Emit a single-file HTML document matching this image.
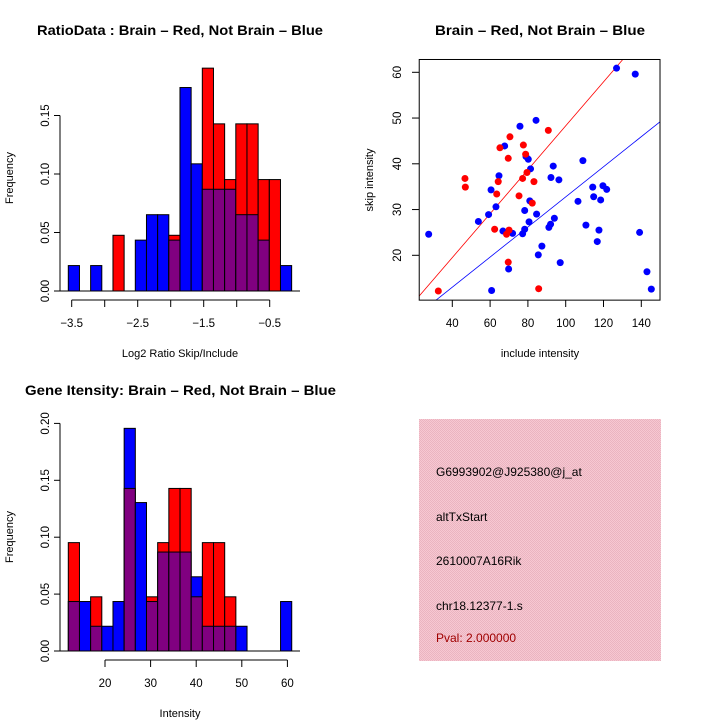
<!DOCTYPE html>
<html><head><meta charset="utf-8"><style>
html,body{margin:0;padding:0;background:#fff;}
svg{display:block;font-family:"Liberation Sans",sans-serif;}
</style></head><body>
<svg id="c" width="720" height="720" viewBox="0 0 720 720">
<defs><pattern id="pk" width="2" height="2" patternUnits="userSpaceOnUse"><rect width="2" height="2" fill="#f7c8d2"/><rect width="1" height="1" fill="#eab4c0"/><rect x="1" y="1" width="1" height="1" fill="#eab4c0"/></pattern></defs>
<text x="37" y="35" font-size="14" font-weight="bold" textLength="286" lengthAdjust="spacingAndGlyphs">RatioData : Brain – Red, Not Brain – Blue</text>
<text x="435" y="35" font-size="14" font-weight="bold" textLength="210" lengthAdjust="spacingAndGlyphs">Brain – Red, Not Brain – Blue</text>
<text x="25" y="395" font-size="14" font-weight="bold" textLength="311" lengthAdjust="spacingAndGlyphs">Gene Itensity: Brain – Red, Not Brain – Blue</text>
<text x="180" y="357" text-anchor="middle" font-size="11">Log2 Ratio Skip/Include</text>
<text x="180" y="717" text-anchor="middle" font-size="11">Intensity</text>
<text x="540" y="357" text-anchor="middle" font-size="11">include intensity</text>
<text transform="translate(13,178) rotate(-90)" text-anchor="middle" font-size="11">Frequency</text>
<text transform="translate(13,537) rotate(-90)" text-anchor="middle" font-size="11">Frequency</text>
<text transform="translate(373,180) rotate(-90)" text-anchor="middle" font-size="11">skip intensity</text>
<g>
<rect x="419" y="419" width="242" height="242" fill="url(#pk)"/>
<text x="436" y="476" font-size="12">G6993902@J925380@j_at</text>
<text x="436" y="521" font-size="12">altTxStart</text>
<text x="436" y="565" font-size="12">2610007A16Rik</text>
<text x="436" y="610" font-size="12">chr18.12377-1.s</text>
<text x="436" y="642" font-size="12" fill="#a00000">Pval: 2.000000</text>
</g>
<g id="g1"></g>
<g id="g2"></g>
<g id="g3"></g>
</svg>
<script>
const ratioRedCounts=[0,0,0,0,1,0,0,0,0,1,0,0,4,3,2,3,3,2,2,0];
const ratioBlueCounts=[1,0,1,0,0,0,2,3,3,2,8,5,4,4,4,3,3,2,0,1];
const ratioTicks=[-3.5,-2.5,-1.5,-0.5];
const ratioTickPos=[-3.5,-3,-2.5,-2,-1.5,-1,-0.5];
const ratioYTicks=[0,0.05,0.10,0.15];
const intRedCounts=[2,0,1,0,0,3,0,1,2,3,3,1,2,2,1,0,0,0,0,0];
const intBlueCounts=[2,2,1,1,2,9,6,2,4,4,4,3,1,1,1,1,0,0,0,2];
const intTicks=[20,30,40,50,60];
const intYTicks=[0,0.05,0.10,0.15,0.20];
const redX=[32.6,46.7,46.9,62.4,63.5,64.3,65.2,68.7,69.6,70.0,69.6,70.5,75.3,77.2,77.6,78.8,79.5,82.3,83.2,85.7,90.8];
const redY=[12.2,36.8,34.9,25.7,33.4,36.1,43.5,24.6,41.2,25.5,18.5,45.9,33.0,36.8,44.1,42.1,38.1,31.4,36.1,12.7,47.3];
const blueX=[27.5,53.8,59.2,60.5,60.8,63.1,64.7,66.8,67.7,69.8,71.9,75.8,77.2,78.3,78.3,79.0,80.2,80.6,81.0,81.4,84.3,84.6,85.5,87.4,91.1,92.0,92.2,93.4,94.0,96.4,97.1,106.5,109.1,110.7,114.3,114.8,116.7,117.6,118.5,119.7,121.7,126.9,136.8,139.1,143.0,145.3];
const blueY=[24.6,27.4,28.9,34.3,12.3,30.6,37.4,25.3,43.9,17.0,24.8,48.2,24.7,25.7,29.8,41.6,41.0,27.3,31.9,38.9,49.5,29.0,20.1,22.0,26.1,26.8,37.0,39.5,28.1,36.5,18.4,31.8,40.7,26.6,34.9,32.8,23.0,25.5,32.1,35.2,34.4,60.9,59.6,25.0,16.4,12.6];
const redFit=[0.3,0.48];
const blueFit=[-0.13,0.329];
const scXTicks=[40,60,80,100,120,140];
const scYTicks=[20,30,40,50,60];

const NS="http://www.w3.org/2000/svg";
function mk(p,t,a){const e=document.createElementNS(NS,t);for(const k in a)e.setAttribute(k,a[k]);p.appendChild(e);return e;}

function hist(g,red,blue,bStart,bW,xs,ys,xTicks,xTickPos,yTicks,xAxY,yAxX,x0,x1){
  const nR=red.reduce((a,b)=>a+b,0), nB=blue.reduce((a,b)=>a+b,0);
  for(let i=0;i<red.length;i++){
    const r=red[i]/nR,b=blue[i]/nB;
    const L=xs(bStart+i*bW),R=xs(bStart+(i+1)*bW);
    const mx=Math.max(r,b),mn=Math.min(r,b);
    if(mx>0){const e=mk(g,'rect',{x:L,y:ys(mx),width:R-L,height:ys(0)-ys(mx),fill:r>b?'#ff0000':'#0000ff',stroke:'#000','stroke-width':1});
      
      }
    if(mn>0){const e=mk(g,'rect',{x:L,y:ys(mn),width:R-L,height:ys(0)-ys(mn),fill:'#800080',stroke:'#000','stroke-width':1});
      
      }
  }
  mk(g,'line',{x1:yAxX,x2:x1,y1:ys(0),y2:ys(0),stroke:'#000'});
  mk(g,'line',{x1:yAxX,x2:yAxX,y1:ys(yTicks[0]),y2:ys(yTicks[yTicks.length-1]),stroke:'#000'});
  yTicks.forEach(v=>{mk(g,'line',{x1:yAxX-6,x2:yAxX,y1:ys(v),y2:ys(v),stroke:'#000'});
    const t=mk(g,'text',{transform:`translate(${yAxX-11},${ys(v)}) rotate(-90)`,'text-anchor':'middle','font-size':11.5});t.textContent=v.toFixed(2);
    
    });
  mk(g,'line',{x1:xs(xTickPos[0]),x2:xs(xTickPos[xTickPos.length-1]),y1:xAxY,y2:xAxY,stroke:'#000'});
  xTickPos.forEach(v=>mk(g,'line',{x1:xs(v),x2:xs(v),y1:xAxY,y2:xAxY+7,stroke:'#000'}));
  xTicks.forEach(v=>{const t=mk(g,'text',{x:xs(v),y:xAxY+27,'text-anchor':'middle','font-size':11.5});t.textContent=String(v).replace('-','\u2212');
    
    });
}
hist(document.getElementById('g1'),ratioRedCounts,ratioBlueCounts,-3.5515,0.1692,
  v=>71.7+(v+3.5)*66, v=>291-v/0.05*58.5, ratioTicks,ratioTickPos,ratioYTicks,300,60,0,300);
hist(document.getElementById('g2'),intRedCounts,intBlueCounts,11.95,2.45,
  v=>105+(v-20)*4.56, v=>651-v/0.05*56.9, intTicks,intTicks,intYTicks,660,60,0,300);

(function(){
  const g=document.getElementById('g3');
  const xs=v=>452.3+(v-40)*1.89, ys=v=>255.3-(v-20)*4.575;
  const xmin=22.5,xmax=149.9,ymin=10.2,ymax=62.8;
  const cp=mk(g,'clipPath',{id:'scClip'});mk(cp,'rect',{x:xs(xmin),y:ys(ymax),width:xs(xmax)-xs(xmin),height:ys(ymin)-ys(ymax)});
  const lg=mk(g,'g',{'clip-path':'url(#scClip)'});
  [[redFit,'#ff0000','fit-line-red'],[blueFit,'#0000ff','fit-line-blue']].forEach(([f,c,n])=>{
    const e=mk(lg,'line',{x1:xs(xmin),y1:ys(f[0]+f[1]*xmin),x2:xs(xmax),y2:ys(f[0]+f[1]*xmax),stroke:c,'stroke-width':0.8});
    
    });
  blueX.forEach((x,i)=>{const e=mk(g,'circle',{cx:xs(x),cy:ys(blueY[i]),r:3.5,fill:'#0000ff'});
    
    });
  redX.forEach((x,i)=>{const e=mk(g,'circle',{cx:xs(x),cy:ys(redY[i]),r:3.5,fill:'#ff0000'});
    
    });
  mk(g,'rect',{x:xs(xmin),y:ys(ymax),width:xs(xmax)-xs(xmin),height:ys(ymin)-ys(ymax),fill:'none',stroke:'#000'});
  scXTicks.forEach(v=>{mk(g,'line',{x1:xs(v),x2:xs(v),y1:300,y2:307,stroke:'#000'});
    const t=mk(g,'text',{x:xs(v),y:327,'text-anchor':'middle','font-size':11.5});t.textContent=v;
    
    });
  scYTicks.forEach(v=>{mk(g,'line',{x1:412,x2:419.3,y1:ys(v),y2:ys(v),stroke:'#000'});
    const t=mk(g,'text',{transform:`translate(${401},${ys(v)}) rotate(-90)`,'text-anchor':'middle','font-size':11.5});t.textContent=v;
    
    });
})();
</script>
</body></html>
